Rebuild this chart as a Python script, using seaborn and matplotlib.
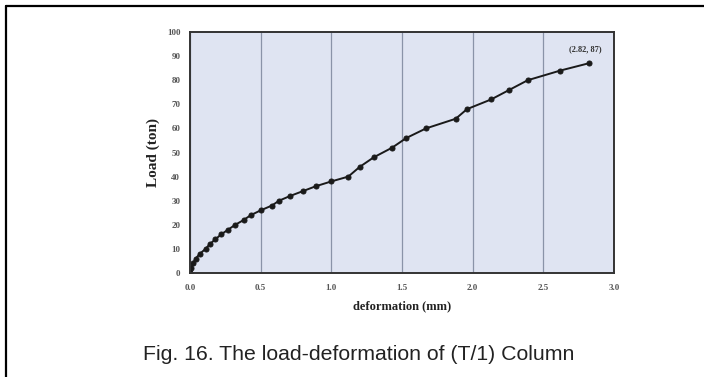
import seaborn as sns
import matplotlib.pyplot as plt
import pandas as pd
from matplotlib.lines import Line2D

# datos
deformacion = [0.0, 0.0, 0.01, 0.02, 0.04, 0.07, 0.11, 0.14, 0.18, 0.22, 0.27,
               0.32, 0.38, 0.43, 0.50, 0.58, 0.63, 0.71, 0.80, 0.89, 1.00,
               1.12, 1.20, 1.30, 1.43, 1.53, 1.67, 1.88, 1.96, 2.13, 2.26,
               2.39, 2.62, 2.82]
carga = [0, 0, 2, 4, 6, 8, 10, 12, 14, 16, 18, 20, 22, 24, 26, 28, 30, 32, 34,
         36, 38, 40, 44, 48, 52, 56, 60, 64, 68, 72, 76, 80, 84, 87]
ticksX = [0.0, 0.5, 1.0, 1.5, 2.0, 2.5, 3.0]
ticksY = [0, 10, 20, 30, 40, 50, 60, 70, 80, 90, 100]
etiquetaFinal = "(2.82, 87)"

dataFrameCarga = pd.DataFrame({'deformacion': deformacion, 'carga': carga})

sns.set_style("white")
plt.rcParams['font.family'] = ['Liberation Serif', 'DejaVu Serif']

fig = plt.figure(figsize=(7.04, 3.77), dpi=100)
ax = fig.add_axes([190 / 704, 1 - 273 / 377, 424 / 704, 241 / 377])

sns.lineplot(data=dataFrameCarga, x='deformacion', y='carga', ax=ax,
             color="#1a1a1a", linewidth=1.4, marker='o', markersize=3.6,
             markeredgecolor="#1a1a1a", sort=False, estimator=None)

ax.set_facecolor("#dfe4f2")
ax.set_xlim(0, 2.99)
ax.set_ylim(0, 100)
ax.set_xticks(ticksX)
ax.set_xticklabels([f"{t:.1f}" for t in ticksX], fontsize=6.5, fontweight='bold', color="#555555")
ax.set_yticks(ticksY)
ax.set_yticklabels([str(t) for t in ticksY], fontsize=6.5, fontweight='bold', color="#555555")
ax.tick_params(axis='y', length=0, pad=7)
ax.tick_params(axis='x', length=0, pad=8)
ax.grid(axis='x', color="#8a93a8", linewidth=0.9)
ax.grid(axis='y', visible=False)
for lado in ax.spines.values():
    lado.set_color("#333333")
    lado.set_linewidth(1.4)

ax.set_xlabel("deformation (mm)", fontsize=9, fontweight='bold', labelpad=6, color="#222222")
ax.set_ylabel("Load (ton)", fontsize=11, fontweight='bold', labelpad=5, color="#222222")

ax.annotate(etiquetaFinal, xy=(deformacion[-1], carga[-1]), xytext=(-2, 7),
            textcoords='offset points', ha='center', va='bottom',
            fontsize=6, fontweight='bold', color="#333333")

fig.text(359 / 704, 1 - 360 / 377, "Fig. 16. The load-deformation of (T/1) Column",
         ha='center', va='baseline', fontsize=15.3, family='Liberation Sans', color="#222222")

# marco exterior (solo arriba e izquierda)
fig.add_artist(Line2D([6 / 704, 1], [1 - 6 / 377, 1 - 6 / 377], color='black', linewidth=1.6))
fig.add_artist(Line2D([6 / 704, 6 / 704], [0, 1 - 6 / 377], color='black', linewidth=1.6))

fig.savefig("out.png", dpi=100)
